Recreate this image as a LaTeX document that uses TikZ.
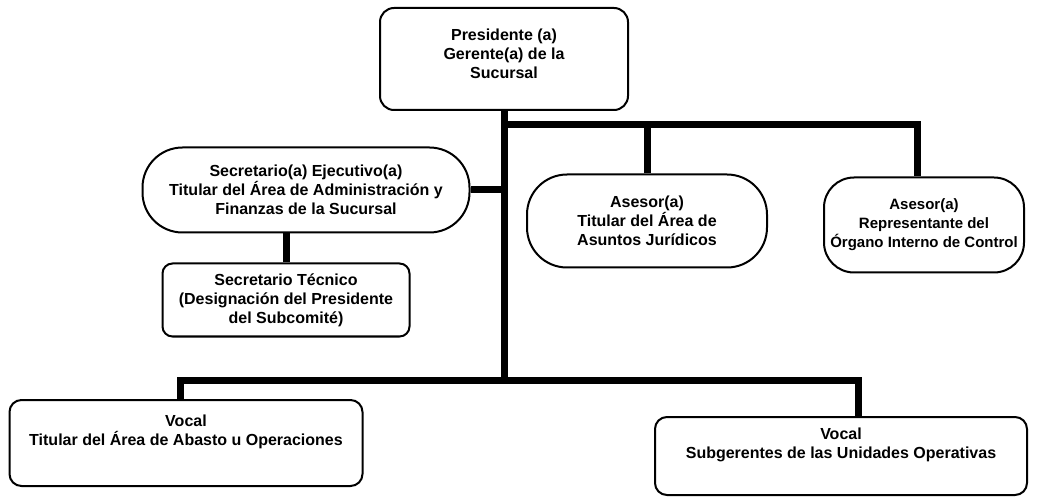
\documentclass[tikz,border=0pt]{standalone}
\usepackage{fontspec}
\setmainfont{Liberation Sans}
\usetikzlibrary{calc}

\begin{document}
\begin{tikzpicture}[x=1pt,y=-1pt,
  box/.style={draw,line width=2pt,rounded corners=14pt,align=center,inner sep=0pt,
    font=\fontsize{16}{19}\selectfont\bfseries},
  pill/.style={box,rounded corners=40pt},
  bar/.style={line width=7pt}]
\useasboundingbox (0,0) rectangle (1045,497);
% Draw the boxes
\node[box,minimum width=248pt,minimum height=102pt] (presidente) at (504,59) {Presidente (a)\\Gerente(a) de la\\Sucursal\\[-9pt]};
\node[pill,minimum width=327pt,minimum height=85pt] (secejec) at (306,190) {Secretario(a) Ejecutivo(a)\\Titular del Área de Administración y\\Finanzas de la Sucursal};
\node[box,rounded corners=10pt,minimum width=247pt,minimum height=73pt] (sectec) at (286,300) {Secretario Técnico\\(Designación del Presidente\\del Subcomité)};
\node[pill,minimum width=240pt,minimum height=93pt] (asesor1) at (647,221) {Asesor(a)\\Titular del Área de\\Asuntos Jurídicos};
\node[pill,rounded corners=30pt,minimum width=200pt,minimum height=95pt,
  font=\fontsize{15}{19}\selectfont\bfseries] (asesor2) at (924,225) {Asesor(a)\\Representante del\\Órgano Interno de Control};
\node[box,rounded corners=12pt,minimum width=353pt,minimum height=86pt] (vocal1) at (186,443) {Vocal\\Titular del Área de Abasto u Operaciones\\\strut};
\node[box,rounded corners=12pt,minimum width=372pt,minimum height=78pt] (vocal2) at (841,456) {Vocal\\Subgerentes de las Unidades Operativas\\\strut};
% Draw the trunk and the bars
\coordinate (topbar) at (504,125);
\coordinate (botbar) at (504,380);
\draw[bar] (presidente.south) -- (botbar);
\draw[bar] (topbar) -| ([xshift=-7pt]asesor2.north);
\draw[bar] (asesor1.north) -- (asesor1.north |- topbar);
\draw[bar] (secejec.east) -- (secejec.east -| topbar);
\draw[bar] (sectec.north) -- (sectec.north |- secejec.south);
% Draw the bottom bar
\draw[bar] ([xshift=-6pt]vocal1.north) |- (botbar) -| ([xshift=17pt]vocal2.north);
\end{tikzpicture}
\end{document}
